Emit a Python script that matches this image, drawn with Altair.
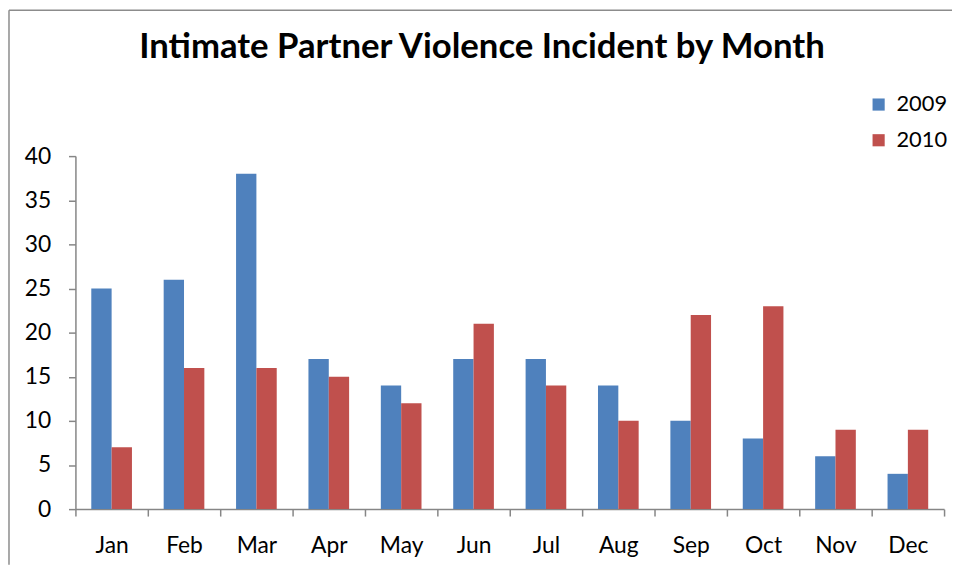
import altair as alt
import pandas as pd

months = ["Jan", "Feb", "Mar", "Apr", "May", "Jun", "Jul", "Aug", "Sep", "Oct", "Nov", "Dec"]
v2009 = [25, 26, 38, 17, 14, 17, 17, 14, 10, 8, 6, 4]
v2010 = [7, 16, 16, 15, 12, 21, 14, 10, 22, 23, 9, 9]
years = ["2009", "2010"]
colors = ["#4F81BD", "#C0504D"]
title_text = "Intimate Partner Violence Incident by Month"

rows = []
for m, a, b in zip(months, v2009, v2010):
    rows.append({"month": m, "year": "2009", "value": a})
    rows.append({"month": m, "year": "2010", "value": b})
df = pd.DataFrame(rows)

FONT = "Lato"

bars = alt.Chart(df).mark_bar().encode(
    x=alt.X("month:N", sort=months, title=None,
            scale=alt.Scale(paddingInner=0, paddingOuter=0),
            axis=alt.Axis(labelAngle=0, tickBand="extent", labelFontSize=23,
                          labelColor="black", labelFont=FONT, labelPadding=19,
                          domainColor="#868686", tickColor="#868686", tickSize=7,
                          domainWidth=1.5, tickWidth=1.5)),
    xOffset=alt.XOffset("year:N", sort=years,
                        scale=alt.Scale(paddingInner=0, paddingOuter=0.78)),
    y=alt.Y("value:Q", title=None,
            scale=alt.Scale(domain=[0, 40]),
            axis=alt.Axis(values=list(range(0, 41, 5)), grid=False, labelFontSize=23,
                          labelColor="black", labelFont=FONT, labelPadding=18,
                          domainColor="#868686", tickColor="#868686", tickSize=7,
                          domainWidth=1.5, tickWidth=1.5)),
    color=alt.Color("year:N", sort=years,
                    scale=alt.Scale(domain=years, range=colors),
                    legend=alt.Legend(title=None, orient="none", legendX=799, legendY=-63,
                                      symbolType="square", symbolSize=150,
                                      symbolStrokeWidth=0, labelFontSize=22,
                                      labelFont=FONT, labelColor="black",
                                      rowPadding=14, labelOffset=7)),
)

title = alt.Chart(alt.Data(values=[{"t": title_text}])).mark_text(
    font=FONT, fontSize=35, fontWeight="bold", color="black",
    align="center", baseline="alphabetic").encode(
    text="t:N", x=alt.value(410), y=alt.value(-99))

frame_left = alt.Chart(alt.Data(values=[{}])).mark_rule(color="#8c8c8c", strokeWidth=1.5).encode(
    x=alt.value(-67), y=alt.value(-147), y2=alt.value(412))
frame_top = alt.Chart(alt.Data(values=[{}])).mark_rule(color="#8c8c8c", strokeWidth=1.5).encode(
    x=alt.value(-67), x2=alt.value(884), y=alt.value(-147))

chart = alt.layer(bars, title, frame_left, frame_top).properties(
    width=876,
    height=356,
    background="white",
    autosize=alt.AutoSizeParams(type="none"),
    padding={"left": 68, "top": 147, "right": 8, "bottom": 56},
).configure_view(stroke="transparent")

chart.save("out.html", embed_options={"renderer": "svg", "actions": False})
